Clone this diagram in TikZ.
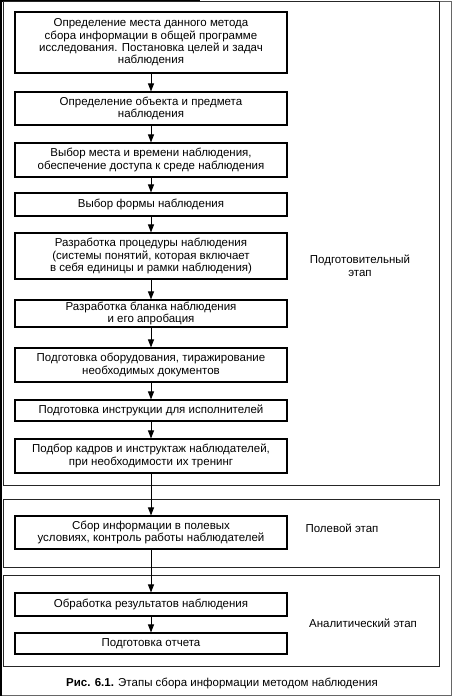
\documentclass[tikz,border=0pt]{standalone}
\usepackage{fontspec}
\setmainfont{Liberation Sans}
\usetikzlibrary{arrows.meta}
\tikzset{
  stepbox/.style={draw=black, line width=1.1pt, minimum width=272pt, align=center, inner sep=0pt, font=\fontsize{11.5}{12.3}\selectfont},
  grp/.style={draw=black!85, line width=0.9pt},
  arr/.style={line width=0.9pt, -{Triangle[length=8pt,width=6pt]}},
  lbl/.style={align=center, font=\fontsize{11.5}{13}\selectfont}
}
\begin{document}
\begin{tikzpicture}[x=1pt,y=-1pt]
\useasboundingbox (0,0) rectangle (454,696);
% scan border
\draw[black!60, line width=0.6pt] (1,1) rectangle (451,695);
\draw[black, line width=2.5pt] (1.2,0) -- (1.2,696);
\draw[black, line width=1.6pt] (0,0.8) -- (200,0.8);
% group frames
\draw[grp] (3.5,1) rectangle (439,485);
\draw[grp] (3.5,499) rectangle (439,567);
\draw[grp] (3.5,575) rectangle (439,666);
% boxes
\node[stepbox, minimum height=61pt] (b1) at (151,42.5) {Определение места данного метода\\сбора информации в общей программе\\исследования. Постановка целей и задач\\наблюдения};
\node[stepbox, minimum height=33pt] (b2) at (151,108.5) {Определение объекта и предмета\\наблюдения};
\node[stepbox, minimum height=34pt] (b3) at (151,160) {Выбор места и времени наблюдения,\\обеспечение доступа к среде наблюдения};
\node[stepbox, minimum height=23pt] (b4) at (151,204.5) {Выбор формы наблюдения};
\node[stepbox, minimum height=46pt] (b5) at (151,256) {Разработка процедуры наблюдения\\(системы понятий, которая включает\\в себя единицы и рамки наблюдения)};
\node[stepbox, minimum height=27pt] (b6) at (151,313.5) {Разработка бланка наблюдения\\и его апробация};
\node[stepbox, minimum height=34pt] (b7) at (151,365) {Подготовка оборудования, тиражирование\\необходимых документов};
\node[stepbox, minimum height=21pt] (b8) at (151,410.5) {Подготовка инструкции для исполнителей};
\node[stepbox, minimum height=34pt] (b9) at (151,456) {Подбор кадров и инструктаж наблюдателей,\\при необходимости их тренинг};
\node[stepbox, minimum height=33pt] (b10) at (151,532.5) {Сбор информации в полевых\\условиях, контроль работы наблюдателей};
\node[stepbox, minimum height=23pt] (b11) at (151,604.5) {Обработка результатов наблюдения};
\node[stepbox, minimum height=21pt] (b12) at (151,643.5) {Подготовка отчета};
% arrows
\foreach \a/\b in {b1/b2,b2/b3,b3/b4,b4/b5,b5/b6,b6/b7,b7/b8,b8/b9,b9/b10,b10/b11,b11/b12}
  \draw[arr] (\a.south) -- (\b.north);
% stage labels
\node[lbl] (l1) at (360,265.5) {Подготовительный\\этап};
\node[lbl] (l2) at (342,528) {Полевой этап};
\node[lbl] (l3) at (363,623) {Аналитический этап};
% caption
\node[font=\fontsize{11.5}{13}\selectfont] (cap) at (222,683) {\textbf{Рис. 6.1.} Этапы сбора информации методом наблюдения};
\end{tikzpicture}
\end{document}
